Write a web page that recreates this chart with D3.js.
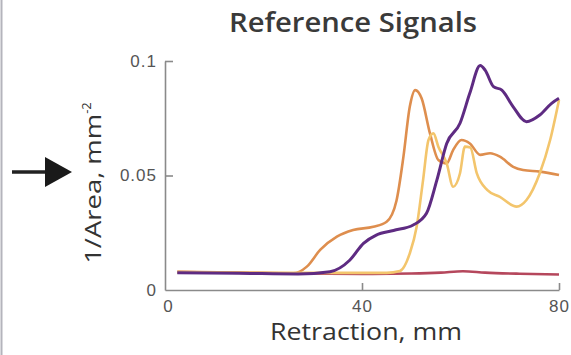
<!DOCTYPE html>
<html>
<head>
<meta charset="utf-8">
<script src="https://cdn.jsdelivr.net/npm/d3@7"></script>
<style>
  body { margin: 0; background: #fff; }
  svg { display: block; font-family: "Open Sans", "Noto Sans", sans-serif; }
</style>
</head>
<body>
<div id="chart"></div>
<script>
// retraction (mm) and 1/area (mm^-2)
const purpleX = [2.5, 15, 27, 33.5, 37.5, 40.3, 42.9, 46.4, 50.4, 53.1, 55.2, 57.2, 59.9, 61.9, 64, 65, 66.7, 68.4, 70.7, 73.4, 76.1, 78.5, 80];
const purpleY = [0.0075, 0.0073, 0.007, 0.008, 0.013, 0.0204, 0.024, 0.026, 0.0284, 0.0335, 0.048, 0.064, 0.0728, 0.086, 0.098, 0.096, 0.0888, 0.0873, 0.08, 0.0735, 0.0764, 0.0815, 0.0837];

const orangeX = [2.5, 15, 26, 28.8, 31.5, 34.9, 38.2, 42.3, 45, 47, 48.4, 49.7, 50.8, 52.1, 53.8, 55.5, 57.2, 58.5, 60.2, 61.9, 64, 66, 68, 70.7, 72.7, 76.1, 80];
const orangeY = [0.0079, 0.0076, 0.0073, 0.0102, 0.0175, 0.0233, 0.0262, 0.0276, 0.0298, 0.039, 0.058, 0.08, 0.0873, 0.0837, 0.0684, 0.0568, 0.0553, 0.0611, 0.0655, 0.064, 0.059, 0.0597, 0.0582, 0.0538, 0.0524, 0.0517, 0.0502];

const yellowX = [2.5, 20, 45, 47.7, 49.7, 51.1, 52.4, 53.5, 54.5, 55.5, 57.2, 58.5, 59.9, 60.9, 62, 63.3, 65.4, 68, 71.4, 73.4, 76.1, 78.2, 80];
const yellowY = [0.0078, 0.0075, 0.0075, 0.0083, 0.016, 0.0276, 0.048, 0.0655, 0.0684, 0.0626, 0.0553, 0.0451, 0.051, 0.0626, 0.0622, 0.051, 0.0437, 0.0407, 0.0364, 0.0393, 0.051, 0.0655, 0.083];

const redX = [2.5, 20, 40, 50, 56, 60.5, 65, 72, 80];
const redY = [0.0078, 0.0074, 0.007, 0.0072, 0.0076, 0.0082, 0.0076, 0.0071, 0.0068];

const xTicks = [0, 40, 80];
const yTicks = [0, 0.05, 0.1];
const yTickLabels = ["0", "0.05", "0.1"];

const series = [
  { x: redX, y: redY, color: "#b5475c" },
  { x: orangeX, y: orangeY, color: "#de8e4e" },
  { x: yellowX, y: yellowY, color: "#f3c56c" },
  { x: purpleX, y: purpleY, color: "#5e2b82" }
];

const width = 571, height = 355;
const margin = { top: 61, right: 12, bottom: 65, left: 165 };
const w = width - margin.left - margin.right;
const h = height - margin.top - margin.bottom;

const svg = d3.select("#chart").append("svg")
  .attr("width", width)
  .attr("height", height);

// thin frame line on the left edge
svg.append("line")
  .attr("x1", 1.5).attr("x2", 1.5)
  .attr("y1", 0).attr("y2", height)
  .attr("stroke", "#b4b4bc").attr("stroke-width", 2);

// arrow pointing at the y label
svg.append("line")
  .attr("x1", 12).attr("x2", 50)
  .attr("y1", 172).attr("y2", 172)
  .attr("stroke", "#222").attr("stroke-width", 3.5);
svg.append("path")
  .attr("d", "M45,157 L72,172 L45,187 Z")
  .attr("fill", "#1a1a1a");

const g = svg.append("g")
  .attr("transform", `translate(${margin.left},${margin.top})`);

const x = d3.scaleLinear().domain([0, 80]).range([0, w]);
const y = d3.scaleLinear().domain([0, 0.1]).range([h, 0]);

// axes
const xAxis = d3.axisBottom(x).tickValues(xTicks).tickSizeInner(-7).tickSizeOuter(0).tickPadding(10);
const yAxis = d3.axisLeft(y).tickValues(yTicks).tickSizeInner(-8).tickSizeOuter(0)
  .tickPadding(8).tickFormat((d, i) => yTickLabels[i]);

const gx = g.append("g").attr("transform", `translate(0,${h})`).call(xAxis);
const gy = g.append("g").call(yAxis);

[gx, gy].forEach(a => {
  a.select(".domain").attr("stroke", "#8a8a8a").attr("stroke-width", 1.6);
  a.selectAll(".tick line").attr("stroke", "#8a8a8a").attr("stroke-width", 1.6);
  a.selectAll(".tick text").attr("fill", "#555").style("font-size", "17px")
    .style("letter-spacing", "1px");
});
gy.selectAll(".tick").filter(d => d === 0).select("line").remove();
gx.selectAll(".tick").filter(d => d === 0).select("line").remove();
gx.selectAll(".tick").filter(d => d === 0).select("text").attr("dx", 3);

// lines
const line = d3.line()
  .x(d => x(d[0]))
  .y(d => y(d[1]))
  .curve(d3.curveMonotoneX);

series.forEach(s => {
  g.append("path")
    .datum(s.x.map((v, i) => [v, s.y[i]]))
    .attr("d", line)
    .attr("fill", "none")
    .attr("stroke", s.color)
    .attr("stroke-width", s.color === "#5e2b82" ? 3 : 2.6)
    .attr("stroke-linejoin", "round");
});

// title and labels
svg.append("text")
  .attr("x", 353).attr("y", 32)
  .attr("text-anchor", "middle")
  .attr("fill", "#3a3a3a")
  .style("font-size", "27px")
  .style("font-weight", 600)
  .attr("textLength", 248)
  .attr("lengthAdjust", "spacingAndGlyphs")
  .text("Reference Signals");

svg.append("text")
  .attr("x", 366).attr("y", 340)
  .attr("text-anchor", "middle")
  .attr("fill", "#333")
  .style("font-size", "23px")
  .style("font-weight", 500)
  .attr("textLength", 192)
  .attr("lengthAdjust", "spacingAndGlyphs")
  .text("Retraction, mm");

const yl = svg.append("text")
  .attr("transform", "translate(101,183) rotate(-90)")
  .attr("text-anchor", "middle")
  .attr("fill", "#333")
  .style("font-size", "22px");
yl.append("tspan").attr("textLength", 150).attr("lengthAdjust", "spacingAndGlyphs").text("1/Area, mm");
yl.append("tspan").attr("dy", -10).style("font-size", "13px").text("-2");
</script>
</body>
</html>
